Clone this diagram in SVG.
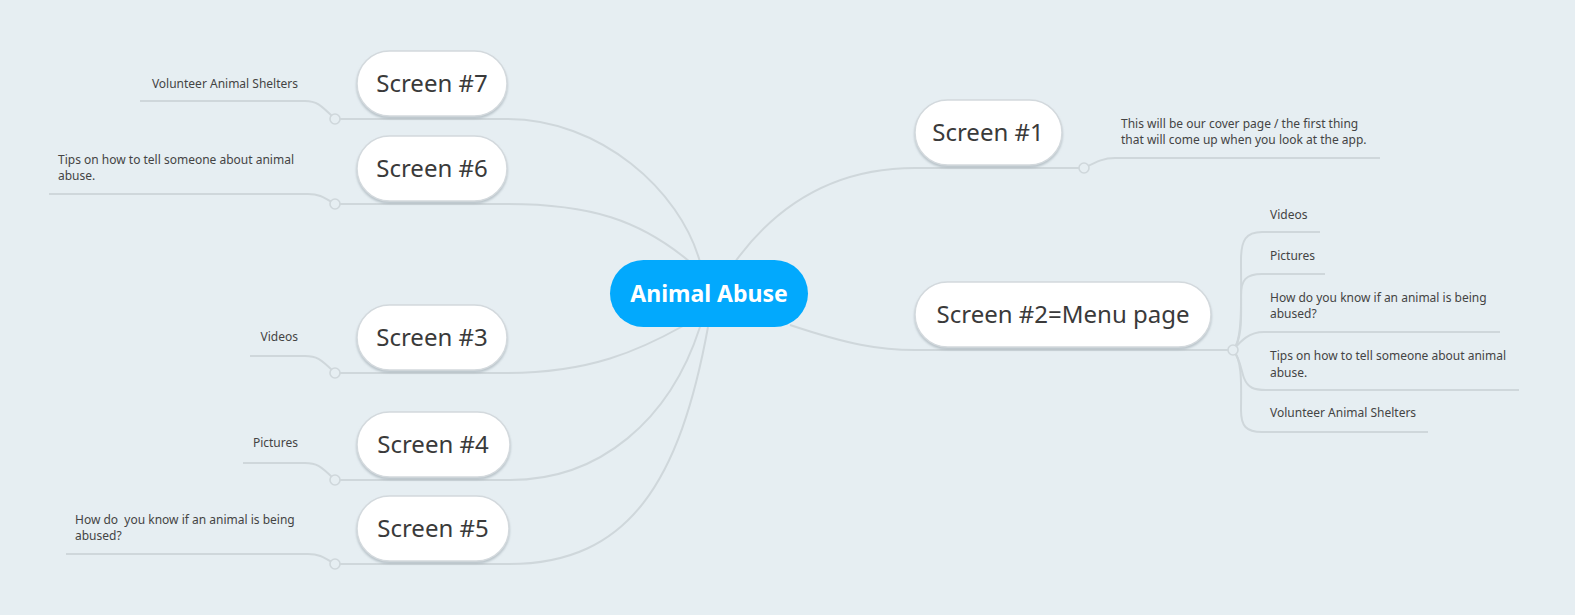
<svg xmlns="http://www.w3.org/2000/svg" width="1575" height="615" viewBox="0 0 1575 615">
<defs>
<filter id="sh" x="-10%" y="-20%" width="120%" height="150%">
<feDropShadow dx="0" dy="2" stdDeviation="1.2" flood-color="#9aa6ad" flood-opacity="0.6"/>
</filter>
<style>
.ln{fill:none;stroke:#cfd7db;stroke-width:2}
.dot{fill:#e6eef2;stroke:#cfd7db;stroke-width:1.6}
.node rect{fill:#ffffff;stroke:#d3d9dd;stroke-width:1.5}
.nt{font-family:"Noto Sans","Open Sans",sans-serif;font-size:24px;fill:#3a3a3a;text-anchor:middle}
.st{font-family:"Noto Sans","Open Sans",sans-serif;font-size:12px;fill:#444444}
.r{text-anchor:end}
</style>
</defs>
<rect width="1575" height="615" fill="#e6eef2"/>
<g id="connectors">
<path class="ln" d="M700,262 C680,190 600,119 507,119 L335,119"/>
<path class="ln" d="M690,262 C640,220 590,204 507,204 L335,204"/>
<path class="ln" d="M683,326 C640,350 590,373 507,373 L335,373"/>
<path class="ln" d="M700,327 C670,420 600,480 510,480 L335,480"/>
<path class="ln" d="M708,327 C680,480 630,564 509,564 L335,564"/>
<path class="ln" d="M735,262 C780,200 840,168 915,168 L1084,168"/>
<path class="ln" d="M790,325 C850,345 880,350 915,350 L1233,350"/>
<path class="ln" d="M335,119 C320,104 316,101 305,101 L140,101"/>
<path class="ln" d="M335,204 C322,196 318,194 308,194 L49,194"/>
<path class="ln" d="M335,373 C320,358 316,356 305,356 L250,356"/>
<path class="ln" d="M335,480 C320,465 316,463 305,463 L243,463"/>
<path class="ln" d="M335,564 C322,556 318,554 308,554 L66,554"/>
<path class="ln" d="M1084,168 C1098,161 1104,158 1115,158 L1380,158"/>
<path class="ln" d="M1233,350 C1243,340 1241,300 1241,260 C1241,240 1246,232 1262,232 L1320,232"/>
<path class="ln" d="M1233,350 C1243,340 1241,310 1241,295 C1241,280 1246,274 1262,274 L1325,274"/>
<path class="ln" d="M1233,350 C1240,342 1248,332 1264,332 L1500,332"/>
<path class="ln" d="M1233,350 C1240,358 1241,370 1244,378 C1248,388 1254,390 1266,390 L1519,390"/>
<path class="ln" d="M1233,350 C1243,360 1241,390 1241,410 C1241,426 1246,432 1262,432 L1428,432"/>
<circle class="dot" cx="335" cy="119" r="5"/>
<circle class="dot" cx="335" cy="204" r="5"/>
<circle class="dot" cx="335" cy="373" r="5"/>
<circle class="dot" cx="335" cy="480" r="5"/>
<circle class="dot" cx="335" cy="564" r="5"/>
<circle class="dot" cx="1084" cy="168" r="5"/>
<circle class="dot" cx="1233" cy="350" r="5"/>
</g>
<g id="center">
<rect x="610" y="260" width="198" height="67" rx="33.5" fill="#02a9fd"/>
<text x="709" y="302" font-family="'Noto Sans','Open Sans',sans-serif" font-size="23" font-weight="bold" fill="#ffffff" text-anchor="middle">Animal Abuse</text>
</g>
<g id="screen7" class="node"><rect x="357" y="51" width="150" height="65" rx="32.5" filter="url(#sh)"/><text class="nt" x="432" y="92">Screen #7</text></g>
<g id="screen6" class="node"><rect x="357" y="136" width="150" height="65" rx="32.5" filter="url(#sh)"/><text class="nt" x="432" y="177">Screen #6</text></g>
<g id="screen3" class="node"><rect x="357" y="305" width="150" height="65" rx="32.5" filter="url(#sh)"/><text class="nt" x="432" y="346">Screen #3</text></g>
<g id="screen4" class="node"><rect x="357" y="412" width="153" height="65" rx="32.5" filter="url(#sh)"/><text class="nt" x="433" y="453">Screen #4</text></g>
<g id="screen5" class="node"><rect x="357" y="496" width="152" height="65" rx="32.5" filter="url(#sh)"/><text class="nt" x="433" y="537">Screen #5</text></g>
<g id="screen1" class="node"><rect x="915" y="100" width="147" height="65" rx="32.5" filter="url(#sh)"/><text class="nt" x="988" y="141">Screen #1</text></g>
<g id="screen2" class="node"><rect x="915" y="282" width="296" height="65" rx="32.5" filter="url(#sh)"/><text class="nt" x="1063" y="323">Screen #2=Menu page</text></g>
<g id="labels">
<text class="st r" x="298" y="88">Volunteer Animal Shelters</text>
<text class="st" x="58" y="164">Tips on how to tell someone about animal</text>
<text class="st" x="58" y="180">abuse.</text>
<text class="st r" x="298" y="341">Videos</text>
<text class="st r" x="298" y="447">Pictures</text>
<text class="st" x="75" y="524" xml:space="preserve">How do  you know if an animal is being</text>
<text class="st" x="75" y="540">abused?</text>
<text class="st" x="1121" y="128">This will be our cover page / the first thing</text>
<text class="st" x="1121" y="144">that will come up when you look at the app.</text>
<text class="st" x="1270" y="219">Videos</text>
<text class="st" x="1270" y="260">Pictures</text>
<text class="st" x="1270" y="302">How do you know if an animal is being</text>
<text class="st" x="1270" y="318">abused?</text>
<text class="st" x="1270" y="360">Tips on how to tell someone about animal</text>
<text class="st" x="1270" y="377">abuse.</text>
<text class="st" x="1270" y="417">Volunteer Animal Shelters</text>
</g>
</svg>
